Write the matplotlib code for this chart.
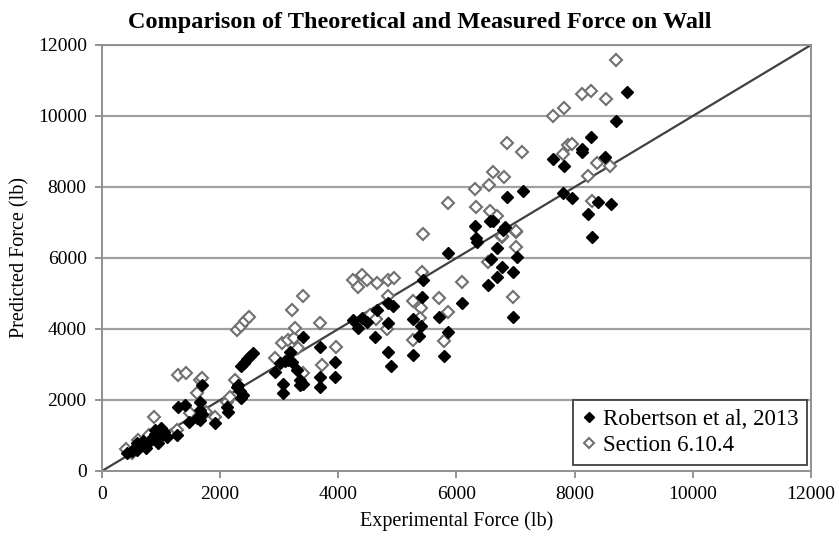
import matplotlib
matplotlib.use("Agg")
import matplotlib.pyplot as plt
import numpy as np

# Robertson et al, 2013 (filled diamonds): experimental vs predicted force (lb)
rob_x = [420, 500, 550, 600, 650, 700, 750, 600, 700,
         820, 870, 900, 950, 1000, 1050, 900, 1000, 1100, 950,
         1270, 1290, 1405, 1475, 1600, 1690, 1660, 1660, 1660, 1700, 1910,
         2115, 2130, 2280, 2330, 2390, 2360, 2300,
         2350, 2400, 2450, 2500, 2550,
         2930, 3010, 3100, 3150, 3215, 3180, 3300, 3400, 3065, 3350, 3400, 3690, 3065, 3350,
         3690, 3690, 3945, 3945,
         4250, 4400, 4490, 4330, 4840, 4620, 4655, 4840, 4925, 5265, 5400, 5370,
         4840, 4890, 5265, 5420, 5435,
         5860, 5705, 6095, 5860, 5790,
         6350, 6790, 6690, 7025, 6585, 6770, 6690, 6960, 6535, 6960,
         7635, 7820, 7130, 6860, 7800, 6570, 6620, 6315, 6820, 6330,
         8890, 8700, 8280, 8130, 8130, 8515, 7960, 8400, 8620, 8230, 8300]
rob_y = [500, 560, 650, 600, 700, 750, 650, 780, 850,
         850, 950, 1050, 900, 1000, 1100, 1150, 1200, 950, 800,
         1010, 1800, 1860, 1380, 1500, 2420, 1940, 1720, 1440, 1600, 1350,
         1800, 1660, 2370, 2250, 2140, 2050, 2420,
         2950, 3050, 3150, 3250, 3320,
         2790, 3040, 3100, 3130, 3060, 3350, 2845, 3770, 2450, 2420, 2450, 3490, 2200, 2550,
         2650, 2365, 3070, 2650,
         4250, 4310, 4200, 4030, 4170, 3770, 4535, 4730, 4650, 4280, 4085, 3800,
         3350, 2960, 3270, 4900, 5380,
         6140, 4340, 4730, 3920, 3240,
         6450, 6790, 6280, 6030, 5970, 5750, 5460, 5600, 5240, 4340,
         8790, 8590, 7890, 7720, 7830, 7040, 7040, 6900, 6870, 6560,
         10680, 9860, 9410, 9070, 8990, 8850, 7690, 7580, 7520, 7240, 6590]

# Section 6.10.4 (open diamonds)
sec_x = [406, 500, 610, 800, 880, 1010, 1270, 1290, 1420, 1490, 1660, 1610, 1690, 1760, 1910,
         2115, 2170, 2250, 2290, 2353, 2420, 2490,
         2930, 3050, 3150, 3250, 3215, 3270, 3320, 3400, 3400, 3690, 3725, 3960,
         4250, 4400, 4490, 4330, 4655, 4840, 4945, 4840, 5265, 5400, 4540, 4640, 4825,
         5385, 5265, 5420, 5435,
         6770, 7010, 7010, 6535, 6095, 5705, 5860, 6960, 5790,
         6860, 7110, 7800, 7890, 6620, 6800, 6550, 6315, 5860, 6330, 6570, 6690, 7010, 6770,
         8700, 8130, 8280, 8530, 7820, 7635, 7960, 8380, 8600, 8230, 8300]
sec_y = [620, 520, 870, 1000, 1520, 1150, 1150, 2700, 2760, 1630, 2560, 2200, 2620, 1660, 1520,
         1940, 2080, 2560, 3970, 4085, 4225, 4340,
         3180, 3600, 3700, 3750, 4535, 4030, 3460, 4930, 2760, 4170, 2985, 3490,
         5380, 5520, 5380, 5180, 5300, 5380, 5440, 4930, 4790, 4590, 4400, 4280, 4000,
         4310, 3690, 5610, 6680,
         6590, 6730, 6310, 5890, 5320, 4870, 4480, 4900, 3660,
         9240, 8990, 8930, 9180, 8420, 8280, 8060, 7940, 7550, 7440, 7320, 7180, 6760, 6620,
         11580, 10620, 10700, 10480, 10230, 10000, 9210, 8680, 8590, 8310, 7610]

ticks = [0, 2000, 4000, 6000, 8000, 10000, 12000]

plt.rcParams["font.family"] = ["Liberation Serif", "DejaVu Serif"]

fig = plt.figure(figsize=(8.39, 5.42), dpi=100)
ax = fig.add_axes([0.1216, 0.131, 0.845, 0.786])

# horizontal grid
for t in ticks[1:]:
    ax.axhline(t, color="#a0a0a0", linewidth=1.6, zorder=1)

# 1:1 line
ax.plot([0, 12000], [0, 12000], color="#404040", linewidth=1.6, zorder=2)

ax.plot(sec_x, sec_y, linestyle="none", marker="D", markersize=6.2,
        markerfacecolor="white", markeredgecolor="#707070", markeredgewidth=1.5,
        label="Section 6.10.4", zorder=3)
ax.plot(rob_x, rob_y, linestyle="none", marker="D", markersize=6.2,
        markerfacecolor="black", markeredgecolor="black",
        label="Robertson et al, 2013", zorder=4)

ax.set_xlim(0, 12000)
ax.set_ylim(0, 12000)
ax.set_xticks(ticks)
ax.set_yticks(ticks)
ax.tick_params(labelsize=14, direction="out", length=5, color="#808080", width=1.2, pad=6)
for s in ax.spines.values():
    s.set_color("#909090")
    s.set_linewidth(1.4)

ax.set_xlabel("Experimental Force (lb)", fontsize=14.5, labelpad=6)
ax.set_ylabel("Predicted Force (lb)", fontsize=14.5, labelpad=6)
fig.suptitle("Comparison of Theoretical and Measured Force on Wall",
             fontsize=17.5, fontweight="bold", y=0.978)

handles, labels = ax.get_legend_handles_labels()
leg = ax.legend(handles[::-1], labels[::-1], loc="lower right",
                bbox_to_anchor=(0.995, 0.014), borderaxespad=0, fontsize=16.5,
                fancybox=False, framealpha=1, edgecolor="#404040", handlelength=0.6,
                handletextpad=0.3, markerscale=0.75, borderpad=0.4,
                labelspacing=0.2)
leg.get_frame().set_linewidth(1.3)

fig.savefig("out.png", dpi=100)
